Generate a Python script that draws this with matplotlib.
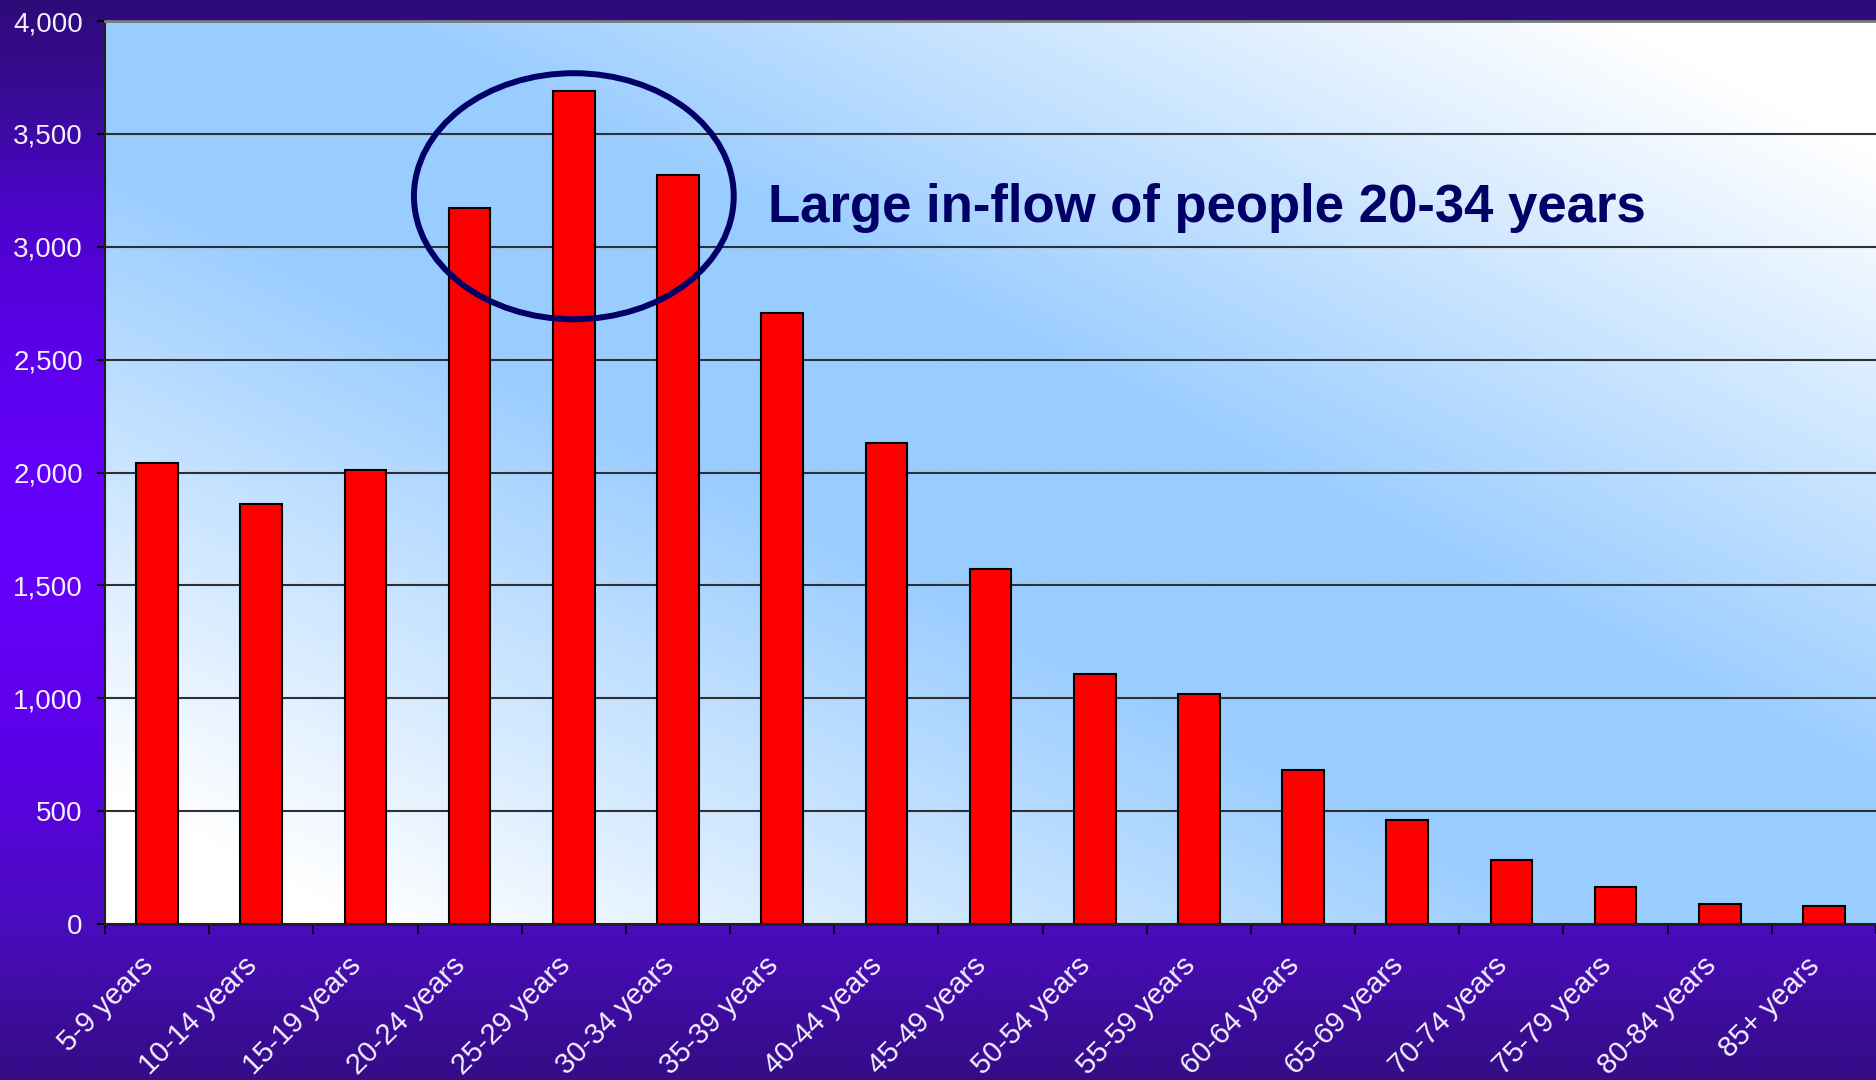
import matplotlib
matplotlib.use('Agg')
import matplotlib.pyplot as plt
import matplotlib.transforms as mtransforms
import numpy as np
from matplotlib.patches import Ellipse
from matplotlib.colors import LinearSegmentedColormap, to_rgb
from matplotlib.ticker import FuncFormatter

plt.rcParams['font.family'] = ['Liberation Sans', 'DejaVu Sans']

# data
ages = ['5-9 years', '10-14 years', '15-19 years', '20-24 years', '25-29 years',
        '30-34 years', '35-39 years', '40-44 years', '45-49 years', '50-54 years',
        '55-59 years', '60-64 years', '65-69 years', '70-74 years', '75-79 years',
        '80-84 years', '85+ years']
people = [2042, 1862, 2013, 3171, 3690, 3317, 2708, 2130, 1572, 1108,
          1021, 684, 459, 283, 166, 89, 79]
y_ticks = [0, 500, 1000, 1500, 2000, 2500, 3000, 3500, 4000]
note = 'Large in-flow of people 20-34 years'

fig = plt.figure(figsize=(18.76, 10.8), dpi=100)

# purple vertical gradient behind everything
bg = fig.add_axes([0, 0, 1, 1], zorder=-10)
stops = [(0.0, '#2e0a78'), (0.09, '#380c96'), (0.19, '#4c04c8'), (0.33, '#5c00ec'),
         (0.5, '#6600ff'), (0.7, '#5c00e8'), (0.86, '#4a0cbc'), (1.0, '#340c86')]
bg_cmap = LinearSegmentedColormap.from_list('bg', stops)
grad = np.linspace(0, 1, 512).reshape(-1, 1)
bg.imshow(grad, cmap=bg_cmap, aspect='auto', extent=[0, 1, 0, 1], origin='upper')
bg.axis('off')

ax = fig.add_axes([0.056, 0.1444, 0.944, 0.8361])
ax.patch.set_visible(False)

# plot area: light blue along the main diagonal, white towards the other corners
xx, yy = np.meshgrid(np.linspace(0, 1, 600), np.linspace(0, 1, 400))
t = np.clip((np.abs(xx - yy) - 0.15) / 0.7, 0, 1)
blue = np.array(to_rgb('#99ccff'))
white = np.array([1.0, 1.0, 1.0])
img = blue[None, None, :] * (1 - t[..., None]) + white[None, None, :] * t[..., None]
ax.imshow(img, extent=[0, 1, 0, 1], transform=ax.transAxes, aspect='auto',
          origin='upper', zorder=0)

x = np.arange(len(ages))
ax.bar(x, people, width=0.4, color='#ff0000', edgecolor='black', linewidth=1.5, zorder=2)

ax.set_xlim(-0.5, len(ages) - 0.5)
ax.set_ylim(0, 4000)
ax.set_yticks(y_ticks)
ax.yaxis.set_major_formatter(FuncFormatter(lambda v, p: f'{int(v):,}'))
ax.grid(axis='y', color='#303030', linewidth=1.5, zorder=1)
ax.set_axisbelow(True)

ax.set_xticks(x)
ax.set_xticklabels(ages, rotation=45, ha='right', va='center', rotation_mode='anchor')
ax.set_xticks(np.arange(-0.5, len(ages)), minor=True)
ax.tick_params(axis='x', which='major', length=0, pad=27, labelsize=21, labelcolor='#f4f0ff')
ax.tick_params(axis='x', which='minor', length=7, width=1.3, color='black', direction='out')
ax.tick_params(axis='y', length=6, width=1.5, color='black', direction='out', pad=10,
               labelsize=20, labelcolor='#f4f0ff')
shift = mtransforms.ScaledTranslation(-6 / 72, 0, fig.dpi_scale_trans)
for lab in ax.get_xticklabels():
    lab.set_transform(lab.get_transform() + shift)

ax.spines['right'].set_visible(False)
ax.spines['top'].set_color('#7a7a7a')
ax.spines['top'].set_linewidth(2)
ax.spines['left'].set_color('#202020')
ax.spines['left'].set_linewidth(1.5)
ax.spines['bottom'].set_color('#202020')
ax.spines['bottom'].set_linewidth(2)

# highlight of the 20-34 age groups
ax.add_patch(Ellipse((4.0, 3224), 3.07, 1090, fill=False, edgecolor='#000066',
                     linewidth=4.3, zorder=3, clip_on=False))
ax.text(5.86, 3109, note, fontsize=38, fontweight='bold', color='#000066',
        ha='left', va='baseline', zorder=4)

fig.savefig('out.png', dpi=100)
